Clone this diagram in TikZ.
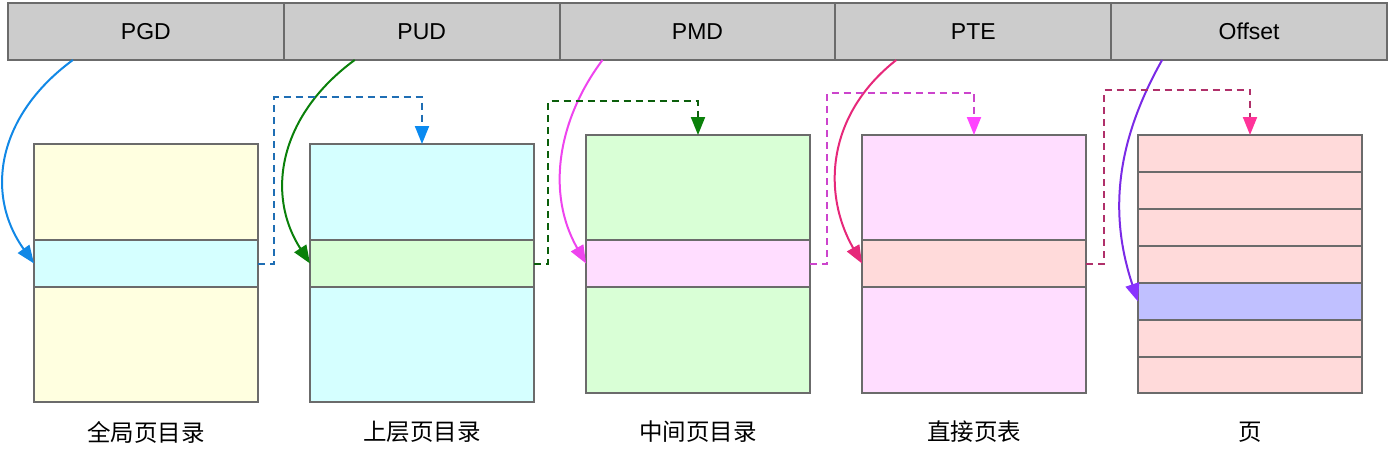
\documentclass[tikz,border=0pt]{standalone}
\usepackage{fontspec}
\setmainfont{Liberation Sans}
\newfontfamily\cjk{Noto Sans CJK SC}
\usetikzlibrary{arrows.meta,calc}
\definecolor{barfill}{HTML}{CCCCCC}
\definecolor{edge}{HTML}{6B6B6B}
\definecolor{cyel}{HTML}{FFFFE0}
\definecolor{ccyan}{HTML}{D5FFFF}
\definecolor{cgreen}{HTML}{D9FFD6}
\definecolor{cpink}{HTML}{FFDDFF}
\definecolor{csalmon}{HTML}{FFDADA}
\definecolor{clav}{HTML}{C0C0FF}
\definecolor{lblue}{HTML}{1188E6}
\definecolor{dblue}{HTML}{1F6EB4}
\definecolor{hblue}{HTML}{0A8AF0}
\definecolor{lgreen}{HTML}{0A800A}
\definecolor{dgreen}{HTML}{0B5E0B}
\definecolor{lmag}{HTML}{EE44EE}
\definecolor{dmag}{HTML}{CC44CC}
\definecolor{hmag}{HTML}{FF44FF}
\definecolor{lcrim}{HTML}{E6287A}
\definecolor{dcrim}{HTML}{B0306A}
\definecolor{hcrim}{HTML}{FF3399}
\definecolor{lpur}{HTML}{7A2AE6}
\definecolor{hpur}{HTML}{8833FF}
\tikzset{
  cell/.style={draw=edge, line width=2pt, fill=barfill, minimum width=275.8pt, minimum height=57pt, inner sep=0pt, outer sep=0pt, anchor=north west, font=\fontsize{23}{27}\selectfont, text height=16.5pt, text depth=0pt},
  row/.style={draw=edge, line width=2pt, minimum width=224pt, inner sep=0pt, outer sep=0pt, anchor=north west},
  lab/.style={font=\cjk\fontsize{23.5}{27}\selectfont},
  tip/.style={-{Triangle[length=18pt,width=14pt,color=#1,fill=#1]}},
  curv/.style={line width=2pt, draw=#1, tip=#1},
  dsh/.style={line width=2pt, dash pattern=on 7pt off 5pt}
}
\begin{document}
\begin{tikzpicture}[x=1pt,y=-1pt]
\useasboundingbox (0,0) rectangle (1390,460);
% top bar
\node[cell] (c1) at (8,3) {PGD};
\node[cell] (c2) at (283.8,3) {PUD};
\node[cell] (c3) at (559.6,3) {PMD};
\node[cell] (c4) at (835.4,3) {PTE};
\node[cell] (c5) at (1111.2,3) {Offset};
% box 1
\node[row, fill=cyel, minimum height=96pt] (t1) at (34,144) {};
\node[row, fill=ccyan, minimum height=47pt] (m1) at (34,240) {};
\node[row, fill=cyel, minimum height=115pt] (b1) at (34,287) {};
% box 2
\node[row, fill=ccyan, minimum height=96pt] (t2) at (310,144) {};
\node[row, fill=cgreen, minimum height=47pt] (m2) at (310,240) {};
\node[row, fill=ccyan, minimum height=115pt] (b2) at (310,287) {};
% box 3
\node[row, fill=cgreen, minimum height=105pt] (t3) at (586,135) {};
\node[row, fill=cpink, minimum height=47pt] (m3) at (586,240) {};
\node[row, fill=cgreen, minimum height=106pt] (b3) at (586,287) {};
% box 4
\node[row, fill=cpink, minimum height=105pt] (t4) at (862,135) {};
\node[row, fill=csalmon, minimum height=47pt] (m4) at (862,240) {};
\node[row, fill=cpink, minimum height=106pt] (b4) at (862,287) {};
% box 5
\node[row, fill=csalmon, minimum height=37pt] (r1) at (1138,135) {};
\node[row, fill=csalmon, minimum height=37pt] (r2) at (1138,172) {};
\node[row, fill=csalmon, minimum height=37pt] (r3) at (1138,209) {};
\node[row, fill=csalmon, minimum height=37pt] (r4) at (1138,246) {};
\node[row, fill=clav, minimum height=37pt] (r5) at (1138,283) {};
\node[row, fill=csalmon, minimum height=37pt] (r6) at (1138,320) {};
\node[row, fill=csalmon, minimum height=36pt] (r7) at (1138,357) {};
% labels
\node[lab] (l1) at (146,432) {全局页目录};
\node[lab] (l2) at (422,432) {上层页目录};
\node[lab] (l3) at (698,432) {中间页目录};
\node[lab] (l4) at (974,432) {直接页表};
\node[lab] (l5) at (1250,432) {页};
% curved arrows
\draw[curv=lblue] ([xshift=-73pt]c1.south) .. controls +(-75,55) and +(-50,-70) .. (m1.west);
\draw[curv=lgreen] ([xshift=-67pt]c2.south) .. controls +(-75,55) and +(-45,-70) .. (m2.west);
\draw[curv=lmag] ([xshift=-95pt]c3.south) .. controls +(-45,60) and +(-40,-70) .. (m3.west);
\draw[curv=lcrim] ([xshift=-77pt]c4.south) .. controls +(-70,55) and +(-40,-70) .. (m4.west);
\draw[line width=2pt, draw=lpur, tip=hpur] ([xshift=-87pt]c5.south) .. controls +(-45,80) and +(-30,-90) .. (r5.west);
% dashed elbow arrows
\draw[dsh, draw=dblue, tip=hblue] (m1.east) -- ++(16,0) |- ([yshift=47pt]t2.north) -- (t2.north);
\draw[dsh, draw=dgreen, tip=lgreen] (m2.east) -- ++(14,0) |- ([yshift=34pt]t3.north) -- (t3.north);
\draw[dsh, draw=dmag, tip=hmag] (m3.east) -- ++(17,0) |- ([yshift=42pt]t4.north) -- (t4.north);
\draw[dsh, draw=dcrim, tip=hcrim] (m4.east) -- ++(18,0) |- ([yshift=45pt]r1.north) -- (r1.north);
\end{tikzpicture}
\end{document}
